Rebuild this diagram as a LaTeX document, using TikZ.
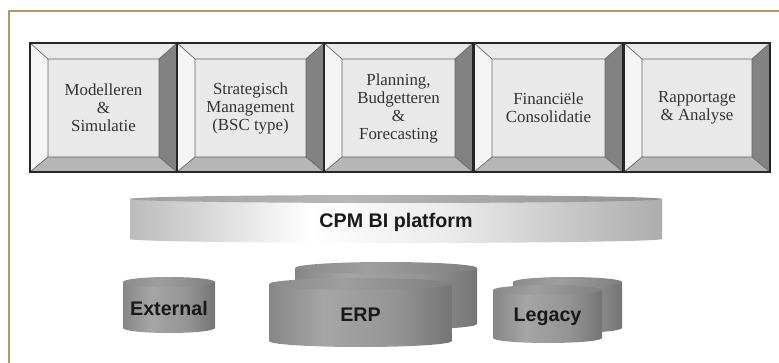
\documentclass[tikz,border=0pt]{standalone}
\usepackage{fontspec}
\setmainfont{Liberation Serif}
\setsansfont{Liberation Sans}
\usepackage{xcolor}
\usepackage{tikz}
\usetikzlibrary{positioning,calc}

\definecolor{framegold}{RGB}{178,152,100}
\definecolor{bevtop}{RGB}{234,234,234}
\definecolor{bevleft}{RGB}{245,245,245}
\definecolor{bevright}{RGB}{130,130,130}
\definecolor{bevbot}{RGB}{182,182,182}
\definecolor{boxface}{RGB}{233,233,233}
\pgfdeclarehorizontalshading{platbody}{100bp}{color(0bp)=(black!50); color(15bp)=(black!42);
  color(42bp)=(white); color(55bp)=(black!8); color(80bp)=(black!38); color(100bp)=(black!55)}
\pgfdeclarehorizontalshading{plattop}{100bp}{color(0bp)=(black!50); color(45bp)=(black!28);
  color(100bp)=(black!55)}
\pgfdeclarehorizontalshading{dbbody}{100bp}{color(0bp)=(black!68); color(40bp)=(black!35);
  color(60bp)=(black!42); color(100bp)=(black!75)}
\pgfdeclarehorizontalshading{dbtop}{100bp}{color(0bp)=(black!55); color(45bp)=(black!38);
  color(100bp)=(black!60)}

\begin{document}
\begin{tikzpicture}[x=0.025cm,y=0.025cm,
  boxtext/.style={align=center,font=\fontsize{12}{12.8}\selectfont,text=black!80},
  dbtext/.style={font=\sffamily\bfseries\fontsize{14}{16}\selectfont,text=black!90}]
  \useasboundingbox (0,0) rectangle (779,363);
  % frame (only top and left show)
  \draw[framegold,line width=0.8pt] (9,0) -- (9,352) -- (779,352);
  % bevelled application boxes
  \foreach \a/\b/\nm/\txt in {30/177/modsim/{Modelleren\\\&\\Simulatie},
      177/324/strat/{Strategisch\\Management\\(BSC type)},
      324/473/plan/{Planning,\\Budgetteren\\\&\\Forecasting},
      474/623/fincon/{Financiële\\Consolidatie},
      624/770/rapp/{Rapportage\\\& Analyse}}
  {
    \fill[boxface] (\a+18,206) rectangle (\b-18,304);
    \fill[bevtop] (\a,320) -- (\b,320) -- (\b-18,304) -- (\a+18,304) -- cycle;
    \fill[bevleft] (\a,320) -- (\a+18,304) -- (\a+18,206) -- (\a,191) -- cycle;
    \fill[bevright] (\b,320) -- (\b,191) -- (\b-18,206) -- (\b-18,304) -- cycle;
    \fill[bevbot] (\a,191) -- (\b,191) -- (\b-18,206) -- (\a+18,206) -- cycle;
    \draw[black!60,line width=0.5pt] (\a+18,206) rectangle (\b-18,304)
      (\a,320) -- (\a+18,304) (\b,320) -- (\b-18,304)
      (\a,191) -- (\a+18,206) (\b,191) -- (\b-18,206);
    \draw[black!85,line width=1pt] (\a,191) rectangle (\b,320);
    \node[boxtext] (\nm) at ({(\a+\b)/2},255) {\txt};
  }
  % platform
  \shade[shading=platbody]
    (130,124) -- (130,164) -- (662,164) -- (662,124)
    arc[start angle=0,end angle=-180,x radius=266,y radius=4] -- cycle;
  \shade[shading=plattop] (396,164) ellipse[x radius=266,y radius=4];
  \node[dbtext] (cpm) at (396,141) {CPM BI platform};
  % data sources
  \foreach \cx/\rx/\ry/\yt/\yb in {386/91/6/95/39, 360.5/91.5/6/79/22,
      169/46/5/81/35, 567.5/54.5/5/81/35, 547.5/54.5/5/73/25}
  {
    \shade[shading=dbbody]
      (\cx-\rx,\yt) -- (\cx-\rx,\yb)
      arc[start angle=180,end angle=360,x radius=\rx,y radius=\ry] -- (\cx+\rx,\yt) -- cycle;
    \shade[shading=dbtop] (\cx,\yt) ellipse[x radius=\rx,y radius=\ry];
  }
  \node[dbtext] (ext) at (169,55) {External};
  \node[dbtext] (erp) at (360.5,48) {ERP};
  \node[dbtext] (leg) at (547.5,46) {Legacy};
\end{tikzpicture}
\end{document}
